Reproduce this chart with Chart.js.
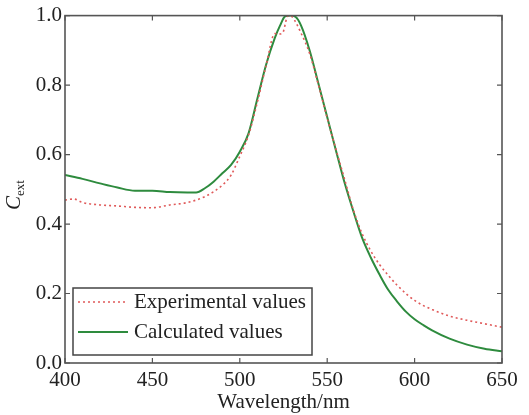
<!DOCTYPE html>
<html>
<head>
<meta charset="utf-8">
<script src="https://cdn.jsdelivr.net/npm/chart.js@4/dist/chart.umd.min.js"></script>
<style>
html,body{margin:0;padding:0;background:#fff;}
#wrap{width:529px;height:415px;position:relative;}
</style>
</head>
<body>
<div id="wrap"><canvas id="c" width="529" height="415"></canvas></div>
<script>
const expWavelength = [400,405,410,420,430,440,450,460,470,480,490,495,500,505,510,515,520,522,524.5,527,528,530,535,540,545,550,555,560,565,570,575,580,585,590,600,610,620,630,640,650];
const expValues     = [0.469,0.472,0.462,0.455,0.452,0.448,0.447,0.455,0.462,0.479,0.512,0.541,0.595,0.656,0.750,0.855,0.948,0.947,0.950,0.995,1.0,0.996,0.950,0.890,0.800,0.705,0.615,0.528,0.440,0.372,0.322,0.283,0.252,0.224,0.180,0.154,0.135,0.123,0.113,0.103];

const calcWavelength = [400,410,420,430,440,450,460,470,475,480,485,490,495,500,505,510,515,520,523,526,529,532,535,540,545,550,555,560,565,570,575,580,585,590,595,600,605,610,620,630,640,650];
const calcValues     = [0.541,0.530,0.517,0.505,0.496,0.496,0.492,0.491,0.491,0.503,0.522,0.546,0.570,0.608,0.661,0.760,0.858,0.935,0.971,0.998,1.0,0.996,0.972,0.899,0.804,0.708,0.612,0.518,0.436,0.360,0.303,0.254,0.210,0.177,0.148,0.126,0.109,0.094,0.070,0.053,0.041,0.034];

const xTicks = [400,450,500,550,600,650];
const yTicks = [0.0,0.2,0.4,0.6,0.8,1.0];
const seriesNames = ['Experimental values','Calculated values'];
const xTitle = 'Wavelength/nm';

const toPts = (xs, ys) => xs.map((x,i)=>({x:x,y:ys[i]}));
const FRAME = '#555555';
const SERIF = '"Liberation Serif","Times New Roman",serif';

const framePlugin = {
  id:'frame',
  afterDraw(chart){
    const ctx = chart.ctx, a = chart.chartArea;
    const xs = chart.scales.x, ys = chart.scales.y;
    ctx.save();
    ctx.strokeStyle = FRAME; ctx.lineWidth = 1.6;
    ctx.strokeRect(a.left, a.top, a.right-a.left, a.bottom-a.top);
    const L = 5;
    ctx.lineWidth = 1.2;
    ctx.beginPath();
    xTicks.forEach(v=>{
      const p = xs.getPixelForValue(v);
      ctx.moveTo(p,a.bottom); ctx.lineTo(p,a.bottom-L);
      ctx.moveTo(p,a.top); ctx.lineTo(p,a.top+L);
    });
    yTicks.forEach(v=>{
      const p = ys.getPixelForValue(v);
      ctx.moveTo(a.left,p); ctx.lineTo(a.left+L,p);
      ctx.moveTo(a.right,p); ctx.lineTo(a.right-L,p);
    });
    ctx.stroke();

    // legend box
    const bx = 73, by = 288, bw = 239, bh = 67;
    ctx.fillStyle = '#fff';
    ctx.fillRect(bx,by,bw,bh);
    ctx.strokeStyle = '#444'; ctx.lineWidth = 1.5;
    ctx.strokeRect(bx,by,bw,bh);
    const rows = [302,332];
    chart.data.datasets.forEach((ds,i)=>{
      ctx.beginPath();
      ctx.strokeStyle = ds.borderColor;
      ctx.lineWidth = ds.borderWidth;
      ctx.setLineDash(ds.borderDash || []);
      ctx.moveTo(78, rows[i]); ctx.lineTo(128, rows[i]);
      ctx.stroke();
      ctx.setLineDash([]);
      ctx.fillStyle = '#222';
      ctx.font = '21px ' + SERIF;
      ctx.textBaseline = 'middle';
      ctx.textAlign = 'left';
      ctx.fillText(ds.label, 134, rows[i]);
    });

    // y title: C_ext rotated
    ctx.translate(20, 204);
    ctx.rotate(-Math.PI/2);
    ctx.fillStyle = '#222';
    ctx.textBaseline = 'alphabetic';
    ctx.textAlign = 'left';
    ctx.font = 'italic 21px ' + SERIF;
    ctx.fillText('C', -6, 0);
    const cw = ctx.measureText('C').width;
    ctx.font = '13px ' + SERIF;
    ctx.fillText('ext', -6 + cw, 4);
    ctx.restore();
  }
};

new Chart(document.getElementById('c'), {
  type:'line',
  data:{
    datasets:[
      {label:seriesNames[0], data:toPts(expWavelength,expValues), borderColor:'#e05a5a', borderWidth:1.6, borderDash:[2,3], pointRadius:0, cubicInterpolationMode:'monotone', fill:false},
      {label:seriesNames[1], data:toPts(calcWavelength,calcValues), borderColor:'#2e8b3e', borderWidth:2, pointRadius:0, cubicInterpolationMode:'monotone', fill:false}
    ]
  },
  options:{
    responsive:false,
    animation:false,
    devicePixelRatio:1,
    layout:{padding:{left:0,right:27,top:15,bottom:0}},
    plugins:{legend:{display:false}, tooltip:{enabled:false}},
    scales:{
      x:{
        type:'linear', min:400, max:650,
        afterBuildTicks(s){ s.ticks = xTicks.map(v=>({value:v})); },
        afterFit(s){ s.height = 52; },
        grid:{display:false, drawTicks:false},
        border:{display:false},
        ticks:{color:'#222', font:{family:SERIF, size:21}, padding:5, maxRotation:0, autoSkip:false, callback:v=>String(v)},
        title:{display:true, text:xTitle, color:'#222', font:{family:SERIF, size:21}, padding:{top:-8,bottom:0}}
      },
      y:{
        type:'linear', min:0, max:1,
        afterBuildTicks(s){ s.ticks = yTicks.map(v=>({value:v})); },
        afterFit(s){ s.width = 65; },
        grid:{display:false, drawTicks:false},
        border:{display:false},
        ticks:{color:'#222', font:{family:SERIF, size:21}, padding:3, autoSkip:false, callback:v=>Number(v).toFixed(1)}
      }
    }
  },
  plugins:[framePlugin]
});
</script>
</body>
</html>
